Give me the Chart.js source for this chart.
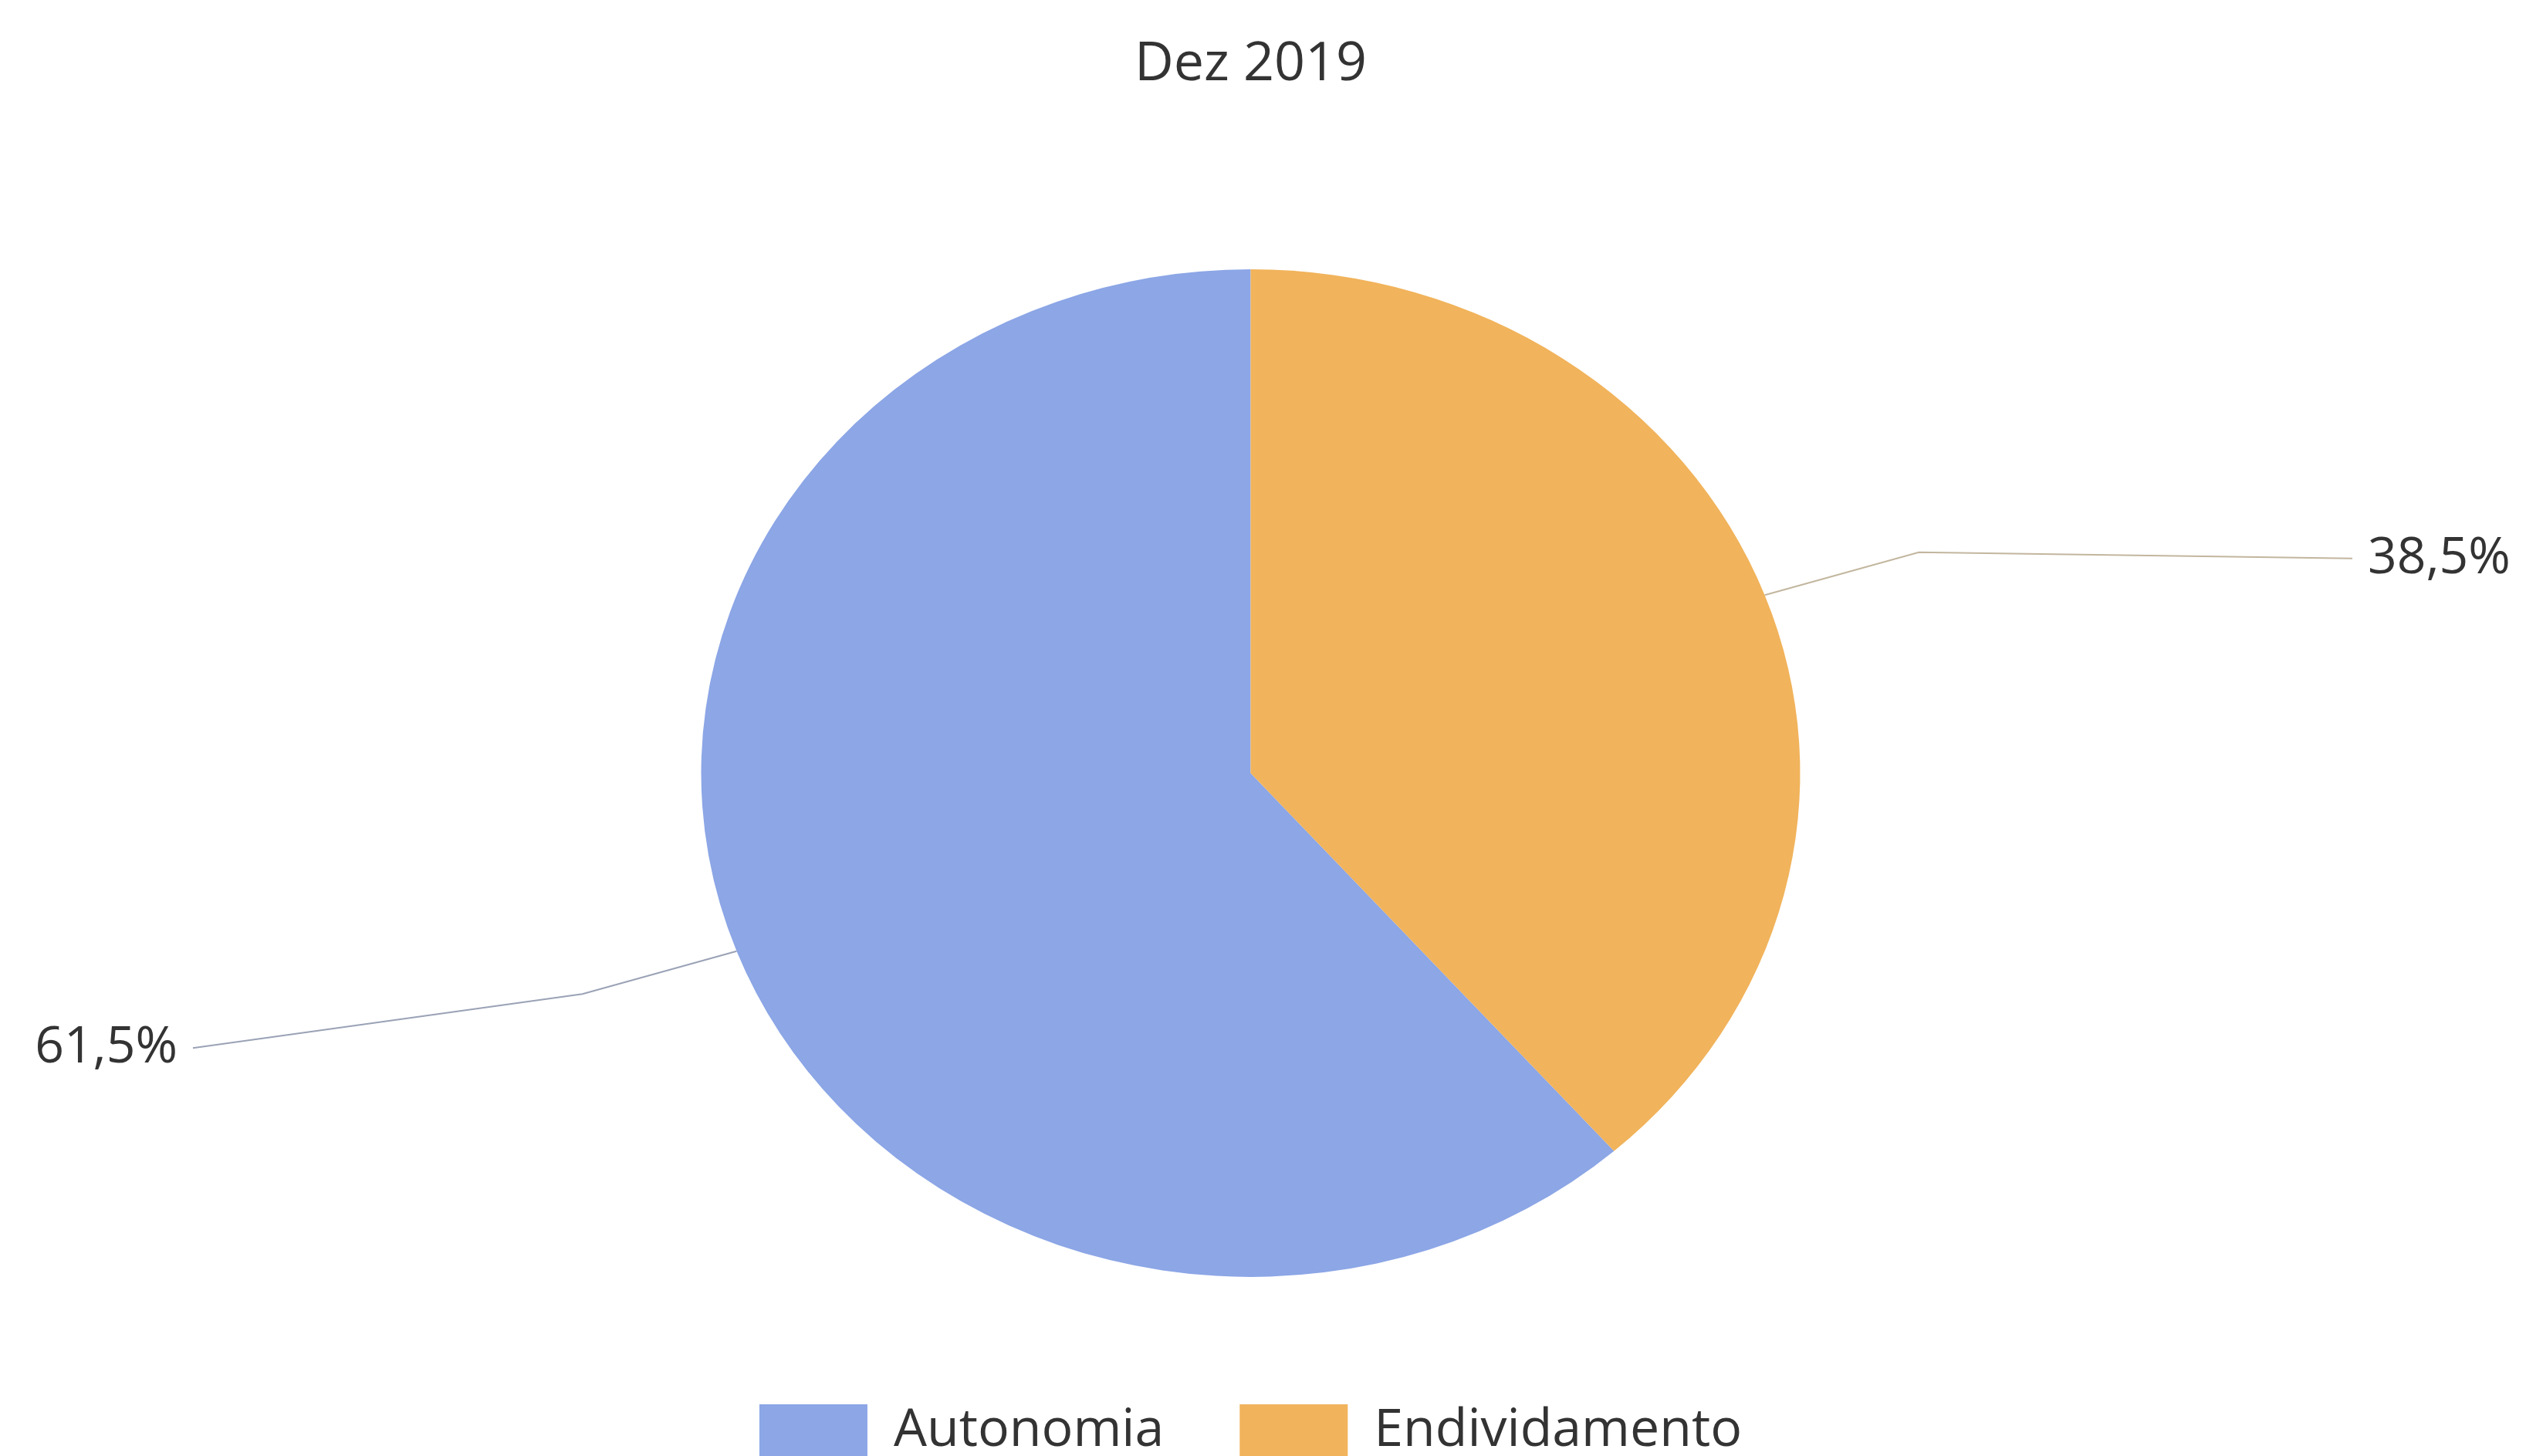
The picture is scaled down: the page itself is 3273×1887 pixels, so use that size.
<!DOCTYPE html>
<html>
<head>
<meta charset="utf-8">
<script src="https://cdn.jsdelivr.net/npm/chart.js@4"></script>
<style>
  html, body { margin: 0; padding: 0; background: #ffffff; overflow: hidden; }
  #wrap { width: 3273px; height: 1900px; position: relative; }
</style>
</head>
<body>
<div id="wrap"><canvas id="pie-chart"></canvas></div>
<script>
const categorias = ['Autonomia', 'Endividamento'];
const valores = [61.5, 38.5];
const cores = ['#8ca6e6', '#f1b35b'];
const titulo = 'Dez 2019';

const total = valores.reduce((a, b) => a + b, 0);
const squashY = 0.917;

// draws the pie a bit flattened, like the scanned original, plus the outside labels
const pieLabels = {
  id: 'pieLabels',
  beforeDatasetsDraw(chart) {
    const arc = chart.getDatasetMeta(0).data[0];
    const ctx = chart.ctx;
    ctx.save();
    ctx.translate(arc.x, arc.y);
    ctx.scale(1, squashY);
    ctx.translate(-arc.x, -arc.y);
  },
  afterDatasetsDraw(chart) {
    const ctx = chart.ctx;
    ctx.restore();
    const arcs = chart.getDatasetMeta(0).data;
    arcs.forEach((arc, i) => {
      const mid = (arc.startAngle + arc.endAngle) / 2;
      const r = arc.outerRadius;
      const cx = Math.cos(mid), cy = Math.sin(mid);
      const x0 = arc.x + cx * r, y0 = arc.y + cy * r * squashY;
      const x1 = arc.x + cx * r * 1.3, y1 = arc.y + cy * r * 1.24 * squashY;
      const right = cx >= 0;
      const x2 = right ? 3048 : 250;
      const y2 = y1 + (right ? 8 : 70);
      ctx.save();
      ctx.strokeStyle = right ? '#c2b69e' : '#9aa2b6';
      ctx.lineWidth = 2;
      ctx.beginPath();
      ctx.moveTo(x0, y0);
      ctx.lineTo(x1, y1);
      ctx.lineTo(x2, y2);
      ctx.stroke();
      ctx.fillStyle = '#333333';
      ctx.font = '66px "Open Sans"';
      ctx.textBaseline = 'middle';
      ctx.textAlign = right ? 'left' : 'right';
      const txt = valores[i].toFixed(1).replace('.', ',') + '%';
      ctx.fillText(txt, right ? x2 + 20 : x2 - 20, y2);
      ctx.restore();
    });
  }
};

const ctx = document.getElementById('pie-chart').getContext('2d');
const chart = new Chart(ctx, {
  type: 'pie',
  data: {
    labels: categorias,
    datasets: [
      {
        data: valores,
        backgroundColor: cores,
        borderWidth: 0,
        radius: 712,
      },
    ],
  },
  options: {
    responsive: true,
    maintainAspectRatio: false,
    animation: false,
    rotation: valores[1] / total * 360,
    layout: {
      padding: { left: 0, right: 32, top: 0, bottom: 0 },
    },
    plugins: {
      title: {
        display: true,
        text: titulo,
        color: '#333333',
        font: { family: 'Open Sans', size: 70, weight: 'normal', lineHeight: 1.2 },
        padding: { top: 42, bottom: 156 },
      },
      legend: {
        position: 'bottom',
        labels: {
          boxWidth: 140,
          boxHeight: 70,
          padding: 98,
          color: '#333333',
          font: { family: 'Open Sans', size: 68 },
        },
      },
      tooltip: { enabled: false },
    },
  },
  plugins: [pieLabels],
});
</script>
</body>
</html>
